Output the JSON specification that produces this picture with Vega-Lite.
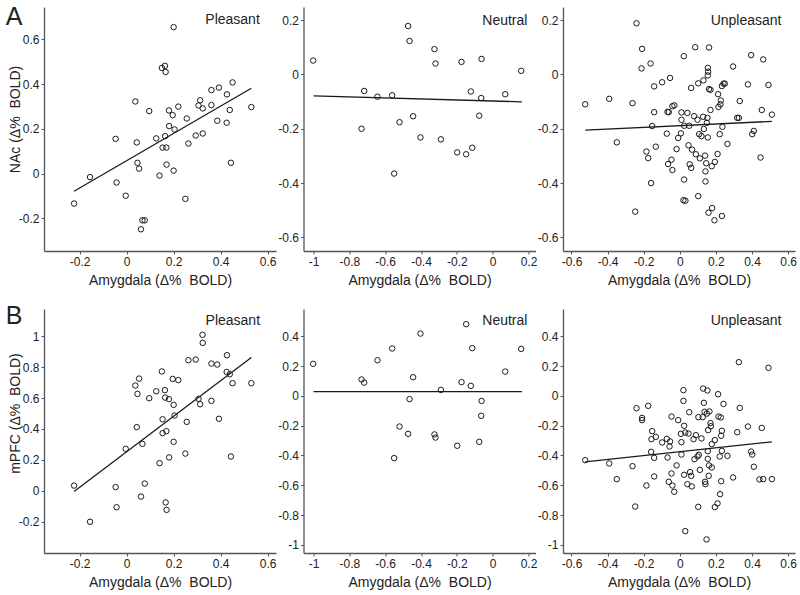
{
  "$schema": "https://vega.github.io/schema/vega-lite/v6.json",
  "padding": {"left": 5, "top": 4, "right": 5, "bottom": 5},
  "background": "white",
  "datasets": {
    "pts": [
      {"p":"NP","x":-0.224,"y":-0.134},{"p":"NP","x":-0.156,"y":-0.016},{"p":"NP","x":-0.047,"y":0.155},{"p":"NP","x":-0.043,"y":-0.040},
      {"p":"NP","x":-0.004,"y":-0.099},{"p":"NP","x":0.037,"y":0.322},{"p":"NP","x":0.043,"y":0.139},{"p":"NP","x":0.046,"y":0.048},
      {"p":"NP","x":0.053,"y":0.022},{"p":"NP","x":0.096,"y":0.279},{"p":"NP","x":0.067,"y":-0.209},{"p":"NP","x":0.077,"y":-0.209},
      {"p":"NP","x":0.061,"y":-0.249},{"p":"NP","x":0.126,"y":0.157},{"p":"NP","x":0.140,"y":-0.009},{"p":"NP","x":0.150,"y":0.472},
      {"p":"NP","x":0.163,"y":0.481},{"p":"NP","x":0.166,"y":0.454},{"p":"NP","x":0.153,"y":0.116},{"p":"NP","x":0.169,"y":0.116},
      {"p":"NP","x":0.164,"y":0.167},{"p":"NP","x":0.170,"y":0.040},{"p":"NP","x":0.180,"y":0.282},{"p":"NP","x":0.181,"y":0.212},
      {"p":"NP","x":0.196,"y":0.261},{"p":"NP","x":0.200,"y":0.654},{"p":"NP","x":0.200,"y":0.013},{"p":"NP","x":0.204,"y":0.197},
      {"p":"NP","x":0.220,"y":0.299},{"p":"NP","x":0.250,"y":-0.113},{"p":"NP","x":0.256,"y":0.246},{"p":"NP","x":0.263,"y":0.134},
      {"p":"NP","x":0.294,"y":0.170},{"p":"NP","x":0.306,"y":0.304},{"p":"NP","x":0.313,"y":0.327},{"p":"NP","x":0.324,"y":0.291},
      {"p":"NP","x":0.324,"y":0.179},{"p":"NP","x":0.361,"y":0.373},{"p":"NP","x":0.361,"y":0.306},{"p":"NP","x":0.393,"y":0.384},
      {"p":"NP","x":0.386,"y":0.236},{"p":"NP","x":0.427,"y":0.354},{"p":"NP","x":0.426,"y":0.227},{"p":"NP","x":0.439,"y":0.284},
      {"p":"NP","x":0.444,"y":0.048},{"p":"NP","x":0.451,"y":0.407},{"p":"NP","x":0.531,"y":0.297},

      {"p":"MP","x":-0.224,"y":0.034},{"p":"MP","x":-0.156,"y":-0.200},{"p":"MP","x":-0.047,"y":0.024},{"p":"MP","x":-0.043,"y":-0.106},
      {"p":"MP","x":-0.004,"y":0.272},{"p":"MP","x":0.037,"y":0.681},{"p":"MP","x":0.043,"y":0.412},{"p":"MP","x":0.046,"y":0.627},
      {"p":"MP","x":0.053,"y":0.726},{"p":"MP","x":0.096,"y":0.599},{"p":"MP","x":0.067,"y":0.304},{"p":"MP","x":0.077,"y":0.047},
      {"p":"MP","x":0.061,"y":-0.037},{"p":"MP","x":0.126,"y":0.644},{"p":"MP","x":0.140,"y":0.179},{"p":"MP","x":0.150,"y":0.772},
      {"p":"MP","x":0.163,"y":0.651},{"p":"MP","x":0.166,"y":-0.075},{"p":"MP","x":0.170,"y":-0.123},{"p":"MP","x":0.153,"y":0.463},
      {"p":"MP","x":0.169,"y":0.386},{"p":"MP","x":0.153,"y":0.373},{"p":"MP","x":0.164,"y":0.603},{"p":"MP","x":0.180,"y":0.593},
      {"p":"MP","x":0.181,"y":0.216},{"p":"MP","x":0.196,"y":0.724},{"p":"MP","x":0.200,"y":0.556},{"p":"MP","x":0.200,"y":0.317},
      {"p":"MP","x":0.204,"y":0.487},{"p":"MP","x":0.220,"y":0.716},{"p":"MP","x":0.250,"y":0.241},{"p":"MP","x":0.256,"y":0.446},
      {"p":"MP","x":0.263,"y":0.845},{"p":"MP","x":0.294,"y":0.849},{"p":"MP","x":0.306,"y":0.595},{"p":"MP","x":0.313,"y":0.560},
      {"p":"MP","x":0.323,"y":1.009},{"p":"MP","x":0.324,"y":0.957},{"p":"MP","x":0.361,"y":0.582},{"p":"MP","x":0.361,"y":0.823},
      {"p":"MP","x":0.386,"y":0.817},{"p":"MP","x":0.393,"y":0.466},{"p":"MP","x":0.427,"y":0.877},{"p":"MP","x":0.426,"y":0.769},
      {"p":"MP","x":0.439,"y":0.754},{"p":"MP","x":0.444,"y":0.222},{"p":"MP","x":0.451,"y":0.696},{"p":"MP","x":0.531,"y":0.696},

      {"p":"NN","x":-1.002,"y":0.051},{"p":"NN","x":-0.732,"y":-0.200},{"p":"NN","x":-0.717,"y":-0.061},{"p":"NN","x":-0.643,"y":-0.082},
      {"p":"NN","x":-0.561,"y":-0.077},{"p":"NN","x":-0.550,"y":-0.365},{"p":"NN","x":-0.520,"y":-0.176},{"p":"NN","x":-0.472,"y":0.178},
      {"p":"NN","x":-0.464,"y":0.123},{"p":"NN","x":-0.444,"y":-0.154},{"p":"NN","x":-0.403,"y":-0.232},{"p":"NN","x":-0.325,"y":0.093},
      {"p":"NN","x":-0.319,"y":0.040},{"p":"NN","x":-0.289,"y":-0.239},{"p":"NN","x":-0.198,"y":-0.287},{"p":"NN","x":-0.174,"y":0.046},
      {"p":"NN","x":-0.148,"y":-0.294},{"p":"NN","x":-0.122,"y":-0.063},{"p":"NN","x":-0.114,"y":-0.270},{"p":"NN","x":-0.075,"y":-0.152},
      {"p":"NN","x":-0.062,"y":0.057},{"p":"NN","x":-0.064,"y":-0.087},{"p":"NN","x":0.070,"y":-0.073},{"p":"NN","x":0.159,"y":0.013},

      {"p":"MN","x":-1.002,"y":0.215},{"p":"MN","x":-0.732,"y":0.110},{"p":"MN","x":-0.717,"y":0.089},{"p":"MN","x":-0.643,"y":0.239},
      {"p":"MN","x":-0.561,"y":0.318},{"p":"MN","x":-0.550,"y":-0.418},{"p":"MN","x":-0.520,"y":-0.206},{"p":"MN","x":-0.472,"y":-0.255},
      {"p":"MN","x":-0.464,"y":-0.022},{"p":"MN","x":-0.444,"y":0.125},{"p":"MN","x":-0.403,"y":0.418},{"p":"MN","x":-0.325,"y":-0.259},
      {"p":"MN","x":-0.319,"y":-0.280},{"p":"MN","x":-0.289,"y":0.040},{"p":"MN","x":-0.198,"y":-0.335},{"p":"MN","x":-0.174,"y":0.092},
      {"p":"MN","x":-0.148,"y":0.481},{"p":"MN","x":-0.122,"y":0.067},{"p":"MN","x":-0.114,"y":0.320},{"p":"MN","x":-0.075,"y":-0.309},
      {"p":"MN","x":-0.062,"y":-0.034},{"p":"MN","x":-0.064,"y":-0.134},{"p":"MN","x":0.070,"y":0.163},{"p":"MN","x":0.159,"y":0.315},

      {"p":"NU","x":-0.524,"y":-0.110},{"p":"NU","x":-0.391,"y":-0.090},{"p":"NU","x":-0.349,"y":-0.250},{"p":"NU","x":-0.262,"y":-0.106},
      {"p":"NU","x":-0.247,"y":-0.505},{"p":"NU","x":-0.240,"y":0.188},{"p":"NU","x":-0.209,"y":0.094},{"p":"NU","x":-0.212,"y":0.022},
      {"p":"NU","x":-0.185,"y":-0.284},{"p":"NU","x":-0.175,"y":-0.308},{"p":"NU","x":-0.162,"y":0.040},{"p":"NU","x":-0.159,"y":-0.400},
      {"p":"NU","x":-0.153,"y":-0.190},{"p":"NU","x":-0.142,"y":-0.044},{"p":"NU","x":-0.142,"y":-0.139},{"p":"NU","x":-0.133,"y":-0.266},
      {"p":"NU","x":-0.098,"y":-0.029},{"p":"NU","x":-0.072,"y":-0.218},{"p":"NU","x":-0.068,"y":-0.138},{"p":"NU","x":-0.065,"y":-0.330},
      {"p":"NU","x":-0.061,"y":-0.139},{"p":"NU","x":-0.054,"y":-0.013},{"p":"NU","x":-0.046,"y":-0.314},{"p":"NU","x":-0.041,"y":-0.117},
      {"p":"NU","x":-0.041,"y":-0.352},{"p":"NU","x":-0.030,"y":-0.114},{"p":"NU","x":-0.018,"y":-0.275},{"p":"NU","x":-0.009,"y":-0.234},
      {"p":"NU","x":0.006,"y":-0.217},{"p":"NU","x":0.009,"y":-0.167},{"p":"NU","x":0.009,"y":-0.140},{"p":"NU","x":0.022,"y":0.067},
      {"p":"NU","x":0.024,"y":-0.189},{"p":"NU","x":0.024,"y":-0.387},{"p":"NU","x":0.020,"y":-0.463},{"p":"NU","x":0.031,"y":-0.465},
      {"p":"NU","x":0.042,"y":-0.142},{"p":"NU","x":0.048,"y":-0.261},{"p":"NU","x":0.052,"y":-0.189},{"p":"NU","x":0.055,"y":-0.331},
      {"p":"NU","x":0.063,"y":-0.050},{"p":"NU","x":0.068,"y":-0.277},{"p":"NU","x":0.063,"y":-0.344},{"p":"NU","x":0.079,"y":-0.154},
      {"p":"NU","x":0.085,"y":0.100},{"p":"NU","x":0.089,"y":-0.294},{"p":"NU","x":0.098,"y":-0.167},{"p":"NU","x":0.102,"y":-0.448},
      {"p":"NU","x":0.102,"y":-0.033},{"p":"NU","x":0.107,"y":-0.220},{"p":"NU","x":0.111,"y":-0.309},{"p":"NU","x":0.120,"y":-0.227},
      {"p":"NU","x":0.129,"y":-0.156},{"p":"NU","x":0.131,"y":-0.022},{"p":"NU","x":0.133,"y":-0.201},{"p":"NU","x":0.140,"y":-0.299},
      {"p":"NU","x":0.142,"y":-0.394},{"p":"NU","x":0.142,"y":-0.357},{"p":"NU","x":0.146,"y":-0.327},{"p":"NU","x":0.150,"y":-0.178},
      {"p":"NU","x":0.153,"y":-0.160},{"p":"NU","x":0.155,"y":-0.232},{"p":"NU","x":0.155,"y":-0.004},{"p":"NU","x":0.155,"y":0.024},
      {"p":"NU","x":0.157,"y":0.010},{"p":"NU","x":0.159,"y":-0.509},{"p":"NU","x":0.162,"y":0.099},{"p":"NU","x":0.162,"y":-0.054},
      {"p":"NU","x":0.170,"y":-0.057},{"p":"NU","x":0.170,"y":-0.131},{"p":"NU","x":0.177,"y":-0.338},{"p":"NU","x":0.179,"y":-0.492},
      {"p":"NU","x":0.194,"y":-0.322},{"p":"NU","x":0.192,"y":-0.537},{"p":"NU","x":0.209,"y":-0.293},{"p":"NU","x":0.212,"y":-0.073},
      {"p":"NU","x":0.214,"y":-0.120},{"p":"NU","x":0.221,"y":-0.220},{"p":"NU","x":0.225,"y":-0.110},{"p":"NU","x":0.227,"y":-0.096},
      {"p":"NU","x":0.233,"y":-0.043},{"p":"NU","x":0.233,"y":-0.521},{"p":"NU","x":0.236,"y":-0.193},{"p":"NU","x":0.242,"y":-0.034},
      {"p":"NU","x":0.249,"y":-0.034},{"p":"NU","x":0.264,"y":-0.256},{"p":"NU","x":0.295,"y":0.029},{"p":"NU","x":0.318,"y":-0.160},
      {"p":"NU","x":0.327,"y":-0.160},{"p":"NU","x":0.332,"y":-0.098},{"p":"NU","x":0.377,"y":-0.037},{"p":"NU","x":0.395,"y":0.071},
      {"p":"NU","x":0.401,"y":-0.220},{"p":"NU","x":0.410,"y":-0.208},{"p":"NU","x":0.447,"y":-0.306},{"p":"NU","x":0.454,"y":-0.131},
      {"p":"NU","x":0.462,"y":0.055},{"p":"NU","x":0.491,"y":-0.039},{"p":"NU","x":0.510,"y":-0.148},

      {"p":"MU","x":-0.524,"y":-0.432},{"p":"MU","x":-0.391,"y":-0.454},{"p":"MU","x":-0.349,"y":-0.559},{"p":"MU","x":-0.262,"y":-0.472},
      {"p":"MU","x":-0.247,"y":-0.743},{"p":"MU","x":-0.240,"y":-0.083},{"p":"MU","x":-0.209,"y":-0.148},{"p":"MU","x":-0.209,"y":-0.163},
      {"p":"MU","x":-0.185,"y":-0.602},{"p":"MU","x":-0.175,"y":-0.067},{"p":"MU","x":-0.159,"y":-0.376},{"p":"MU","x":-0.153,"y":-0.237},
      {"p":"MU","x":-0.157,"y":-0.291},{"p":"MU","x":-0.142,"y":-0.416},{"p":"MU","x":-0.142,"y":-0.541},{"p":"MU","x":-0.133,"y":-0.275},
      {"p":"MU","x":-0.098,"y":-0.313},{"p":"MU","x":-0.072,"y":-0.289},{"p":"MU","x":-0.068,"y":-0.414},{"p":"MU","x":-0.061,"y":-0.577},
      {"p":"MU","x":-0.057,"y":-0.340},{"p":"MU","x":-0.054,"y":-0.306},{"p":"MU","x":-0.046,"y":-0.139},{"p":"MU","x":-0.046,"y":-0.521},
      {"p":"MU","x":-0.041,"y":-0.602},{"p":"MU","x":-0.031,"y":-0.644},{"p":"MU","x":-0.018,"y":-0.467},{"p":"MU","x":-0.009,"y":-0.163},
      {"p":"MU","x":0.006,"y":-0.255},{"p":"MU","x":0.009,"y":-0.311},{"p":"MU","x":0.009,"y":-0.394},{"p":"MU","x":0.020,"y":0.038},
      {"p":"MU","x":0.020,"y":-0.034},{"p":"MU","x":0.024,"y":-0.201},{"p":"MU","x":0.024,"y":-0.530},{"p":"MU","x":0.030,"y":-0.908},
      {"p":"MU","x":0.030,"y":-0.246},{"p":"MU","x":0.042,"y":-0.593},{"p":"MU","x":0.048,"y":-0.253},{"p":"MU","x":0.052,"y":-0.110},
      {"p":"MU","x":0.057,"y":-0.512},{"p":"MU","x":0.063,"y":-0.537},{"p":"MU","x":0.066,"y":-0.608},{"p":"MU","x":0.076,"y":-0.291},
      {"p":"MU","x":0.081,"y":-0.425},{"p":"MU","x":0.089,"y":-0.264},{"p":"MU","x":0.098,"y":-0.407},{"p":"MU","x":0.102,"y":-0.745},
      {"p":"MU","x":0.103,"y":-0.143},{"p":"MU","x":0.105,"y":-0.396},{"p":"MU","x":0.111,"y":-0.497},{"p":"MU","x":0.120,"y":-0.286},
      {"p":"MU","x":0.127,"y":-0.143},{"p":"MU","x":0.129,"y":0.049},{"p":"MU","x":0.133,"y":-0.047},{"p":"MU","x":0.137,"y":-0.107},
      {"p":"MU","x":0.140,"y":-0.577},{"p":"MU","x":0.142,"y":-0.593},{"p":"MU","x":0.148,"y":-0.964},{"p":"MU","x":0.150,"y":-0.119},
      {"p":"MU","x":0.153,"y":0.036},{"p":"MU","x":0.155,"y":-0.371},{"p":"MU","x":0.155,"y":-0.423},{"p":"MU","x":0.157,"y":-0.230},
      {"p":"MU","x":0.160,"y":-0.537},{"p":"MU","x":0.162,"y":-0.467},{"p":"MU","x":0.164,"y":-0.105},{"p":"MU","x":0.170,"y":-0.183},
      {"p":"MU","x":0.172,"y":-0.204},{"p":"MU","x":0.177,"y":-0.324},{"p":"MU","x":0.177,"y":-0.481},{"p":"MU","x":0.194,"y":-0.297},
      {"p":"MU","x":0.194,"y":-0.747},{"p":"MU","x":0.209,"y":-0.722},{"p":"MU","x":0.212,"y":0.011},{"p":"MU","x":0.214,"y":-0.139},
      {"p":"MU","x":0.221,"y":-0.407},{"p":"MU","x":0.227,"y":-0.145},{"p":"MU","x":0.229,"y":-0.268},{"p":"MU","x":0.233,"y":-0.235},
      {"p":"MU","x":0.233,"y":-0.369},{"p":"MU","x":0.229,"y":-0.573},{"p":"MU","x":0.223,"y":-0.660},{"p":"MU","x":0.242,"y":-0.054},
      {"p":"MU","x":0.264,"y":-0.403},{"p":"MU","x":0.295,"y":-0.548},{"p":"MU","x":0.318,"y":-0.244},{"p":"MU","x":0.327,"y":0.226},
      {"p":"MU","x":0.332,"y":-0.081},{"p":"MU","x":0.377,"y":-0.206},{"p":"MU","x":0.395,"y":-0.374},{"p":"MU","x":0.401,"y":-0.394},
      {"p":"MU","x":0.410,"y":-0.476},{"p":"MU","x":0.441,"y":-0.561},{"p":"MU","x":0.462,"y":-0.559},{"p":"MU","x":0.454,"y":-0.215},
      {"p":"MU","x":0.491,"y":0.188},{"p":"MU","x":0.510,"y":-0.559}
    ],
    "fit": [
      {"p":"NP","x":-0.224,"y":-0.079},{"p":"NP","x":0.531,"y":0.381},
      {"p":"NN","x":-1.0,"y":-0.079},{"p":"NN","x":0.163,"y":-0.101},
      {"p":"NU","x":-0.524,"y":-0.205},{"p":"NU","x":0.510,"y":-0.173},
      {"p":"MP","x":-0.224,"y":-0.004},{"p":"MP","x":0.531,"y":0.862},
      {"p":"MN","x":-1.0,"y":0.029},{"p":"MN","x":0.163,"y":0.029},
      {"p":"MU","x":-0.524,"y":-0.443},{"p":"MU","x":0.510,"y":-0.309}
    ],
    "labels": [{"one": 1}]
  },
  "vconcat": [
    {
      "bounds": "flush",
      "spacing": 27.5,
      "hconcat": [
        {
          "width": 232, "height": 244,
          "layer": [
            {"data": {"name": "pts"}, "transform": [{"filter": "datum.p === 'NP'"}],
             "mark": {"type": "point", "shape": "circle", "filled": false, "size": 30, "stroke": "#1a1a1a", "strokeWidth": 1, "opacity": 1},
             "encoding": {
               "x": {"field": "x", "type": "quantitative", "scale": {"domain": [-0.352, 0.636], "nice": false, "zero": false},
                     "axis": {"title": "Amygdala (Δ%\u00a0 BOLD)", "tickCount": 20, "labelOverlap": false, "values": [-0.2, 0, 0.2, 0.4, 0.6], "labelExpr": "'' + datum.value"}},
               "y": {"field": "y", "type": "quantitative", "scale": {"domain": [-0.346, 0.744], "nice": false, "zero": false},
                     "axis": {"title": "NAc (Δ%\u00a0 BOLD)", "titleY": 112, "tickCount": 20, "labelOverlap": false, "values": [-0.2, 0, 0.2, 0.4, 0.6], "labelExpr": "'' + datum.value"}}
             }},
            {"data": {"name": "fit"}, "transform": [{"filter": "datum.p === 'NP'"}],
             "mark": {"type": "line", "color": "#1a1a1a", "strokeWidth": 1.3},
             "encoding": {"x": {"field": "x", "type": "quantitative"}, "y": {"field": "y", "type": "quantitative"}}},
            {"data": {"name": "labels"},
             "mark": {"type": "text", "text": "Pleasant", "align": "right", "baseline": "alphabetic", "fontSize": 14, "color": "#222"},
             "encoding": {"x": {"datum": 0.567}, "y": {"datum": 0.666}}},
            {"data": {"name": "labels"},
             "mark": {"type": "text", "text": "A", "align": "left", "baseline": "alphabetic", "fontSize": 25, "color": "#222"},
             "encoding": {"x": {"datum": -0.515}, "y": {"datum": 0.664}}}
          ]
        },
        {
          "width": 232, "height": 244,
          "layer": [
            {"data": {"name": "pts"}, "transform": [{"filter": "datum.p === 'NN'"}],
             "mark": {"type": "point", "shape": "circle", "filled": false, "size": 30, "stroke": "#1a1a1a", "strokeWidth": 1, "opacity": 1},
             "encoding": {
               "x": {"field": "x", "type": "quantitative", "scale": {"domain": [-1.056, 0.239], "nice": false, "zero": false},
                     "axis": {"title": "Amygdala (Δ%\u00a0 BOLD)", "tickCount": 20, "labelOverlap": false, "values": [-1, -0.8, -0.6, -0.4, -0.2, 0, 0.2], "labelExpr": "'' + datum.value"}},
               "y": {"field": "y", "type": "quantitative", "scale": {"domain": [-0.650, 0.248], "nice": false, "zero": false},
                     "axis": {"title": null, "tickCount": 20, "labelOverlap": false, "values": [-0.6, -0.4, -0.2, 0, 0.2], "labelExpr": "'' + datum.value"}}
             }},
            {"data": {"name": "fit"}, "transform": [{"filter": "datum.p === 'NN'"}],
             "mark": {"type": "line", "color": "#1a1a1a", "strokeWidth": 1.3},
             "encoding": {"x": {"field": "x", "type": "quantitative"}, "y": {"field": "y", "type": "quantitative"}}},
            {"data": {"name": "labels"},
             "mark": {"type": "text", "text": "Neutral", "align": "right", "baseline": "alphabetic", "fontSize": 14, "color": "#222"},
             "encoding": {"x": {"datum": 0.194}, "y": {"datum": 0.183}}}
          ]
        },
        {
          "width": 232, "height": 244,
          "layer": [
            {"data": {"name": "pts"}, "transform": [{"filter": "datum.p === 'NU'"}],
             "mark": {"type": "point", "shape": "circle", "filled": false, "size": 30, "stroke": "#1a1a1a", "strokeWidth": 1, "opacity": 1},
             "encoding": {
               "x": {"field": "x", "type": "quantitative", "scale": {"domain": [-0.647, 0.638], "nice": false, "zero": false},
                     "axis": {"title": "Amygdala (Δ%\u00a0 BOLD)", "tickCount": 20, "labelOverlap": false, "values": [-0.6, -0.4, -0.2, 0, 0.2, 0.4, 0.6], "labelExpr": "'' + datum.value"}},
               "y": {"field": "y", "type": "quantitative", "scale": {"domain": [-0.650, 0.248], "nice": false, "zero": false},
                     "axis": {"title": null, "tickCount": 20, "labelOverlap": false, "values": [-0.6, -0.4, -0.2, 0, 0.2], "labelExpr": "'' + datum.value"}}
             }},
            {"data": {"name": "fit"}, "transform": [{"filter": "datum.p === 'NU'"}],
             "mark": {"type": "line", "color": "#1a1a1a", "strokeWidth": 1.3},
             "encoding": {"x": {"field": "x", "type": "quantitative"}, "y": {"field": "y", "type": "quantitative"}}},
            {"data": {"name": "labels"},
             "mark": {"type": "text", "text": "Unpleasant", "align": "right", "baseline": "alphabetic", "fontSize": 14, "color": "#222"},
             "encoding": {"x": {"datum": 0.563}, "y": {"datum": 0.183}}}
          ]
        }
      ]
    },
    {
      "bounds": "flush",
      "spacing": 27.5,
      "hconcat": [
        {
          "width": 232, "height": 244,
          "layer": [
            {"data": {"name": "pts"}, "transform": [{"filter": "datum.p === 'MP'"}],
             "mark": {"type": "point", "shape": "circle", "filled": false, "size": 30, "stroke": "#1a1a1a", "strokeWidth": 1, "opacity": 1},
             "encoding": {
               "x": {"field": "x", "type": "quantitative", "scale": {"domain": [-0.352, 0.636], "nice": false, "zero": false},
                     "axis": {"title": "Amygdala (Δ%\u00a0 BOLD)", "tickCount": 20, "labelOverlap": false, "values": [-0.2, 0, 0.2, 0.4, 0.6], "labelExpr": "'' + datum.value"}},
               "y": {"field": "y", "type": "quantitative", "scale": {"domain": [-0.402, 1.176], "nice": false, "zero": false},
                     "axis": {"title": "mPFC (Δ%\u00a0 BOLD)", "titleY": 104, "tickCount": 20, "labelOverlap": false, "values": [-0.2, 0, 0.2, 0.4, 0.6, 0.8, 1], "labelExpr": "'' + datum.value"}}
             }},
            {"data": {"name": "fit"}, "transform": [{"filter": "datum.p === 'MP'"}],
             "mark": {"type": "line", "color": "#1a1a1a", "strokeWidth": 1.3},
             "encoding": {"x": {"field": "x", "type": "quantitative"}, "y": {"field": "y", "type": "quantitative"}}},
            {"data": {"name": "labels"},
             "mark": {"type": "text", "text": "Pleasant", "align": "right", "baseline": "alphabetic", "fontSize": 14, "color": "#222"},
             "encoding": {"x": {"datum": 0.568}, "y": {"datum": 1.072}}},
            {"data": {"name": "labels"},
             "mark": {"type": "text", "text": "B", "align": "left", "baseline": "alphabetic", "fontSize": 25, "color": "#222"},
             "encoding": {"x": {"datum": -0.515}, "y": {"datum": 1.076}}}
          ]
        },
        {
          "width": 232, "height": 244,
          "layer": [
            {"data": {"name": "pts"}, "transform": [{"filter": "datum.p === 'MN'"}],
             "mark": {"type": "point", "shape": "circle", "filled": false, "size": 30, "stroke": "#1a1a1a", "strokeWidth": 1, "opacity": 1},
             "encoding": {
               "x": {"field": "x", "type": "quantitative", "scale": {"domain": [-1.056, 0.239], "nice": false, "zero": false},
                     "axis": {"title": "Amygdala (Δ%\u00a0 BOLD)", "tickCount": 20, "labelOverlap": false, "values": [-1, -0.8, -0.6, -0.4, -0.2, 0, 0.2], "labelExpr": "'' + datum.value"}},
               "y": {"field": "y", "type": "quantitative", "scale": {"domain": [-1.055, 0.583], "nice": false, "zero": false},
                     "axis": {"title": null, "tickCount": 20, "labelOverlap": false, "values": [-1, -0.8, -0.6, -0.4, -0.2, 0, 0.2, 0.4], "labelExpr": "'' + datum.value"}}
             }},
            {"data": {"name": "fit"}, "transform": [{"filter": "datum.p === 'MN'"}],
             "mark": {"type": "line", "color": "#1a1a1a", "strokeWidth": 1.3},
             "encoding": {"x": {"field": "x", "type": "quantitative"}, "y": {"field": "y", "type": "quantitative"}}},
            {"data": {"name": "labels"},
             "mark": {"type": "text", "text": "Neutral", "align": "right", "baseline": "alphabetic", "fontSize": 14, "color": "#222"},
             "encoding": {"x": {"datum": 0.194}, "y": {"datum": 0.475}}}
          ]
        },
        {
          "width": 232, "height": 244,
          "layer": [
            {"data": {"name": "pts"}, "transform": [{"filter": "datum.p === 'MU'"}],
             "mark": {"type": "point", "shape": "circle", "filled": false, "size": 30, "stroke": "#1a1a1a", "strokeWidth": 1, "opacity": 1},
             "encoding": {
               "x": {"field": "x", "type": "quantitative", "scale": {"domain": [-0.647, 0.638], "nice": false, "zero": false},
                     "axis": {"title": "Amygdala (Δ%\u00a0 BOLD)", "tickCount": 20, "labelOverlap": false, "values": [-0.6, -0.4, -0.2, 0, 0.2, 0.4, 0.6], "labelExpr": "'' + datum.value"}},
               "y": {"field": "y", "type": "quantitative", "scale": {"domain": [-1.055, 0.583], "nice": false, "zero": false},
                     "axis": {"title": null, "tickCount": 20, "labelOverlap": false, "values": [-1, -0.8, -0.6, -0.4, -0.2, 0, 0.2, 0.4], "labelExpr": "'' + datum.value"}}
             }},
            {"data": {"name": "fit"}, "transform": [{"filter": "datum.p === 'MU'"}],
             "mark": {"type": "line", "color": "#1a1a1a", "strokeWidth": 1.3},
             "encoding": {"x": {"field": "x", "type": "quantitative"}, "y": {"field": "y", "type": "quantitative"}}},
            {"data": {"name": "labels"},
             "mark": {"type": "text", "text": "Unpleasant", "align": "right", "baseline": "alphabetic", "fontSize": 14, "color": "#222"},
             "encoding": {"x": {"datum": 0.563}, "y": {"datum": 0.475}}}
          ]
        }
      ]
    }
  ],
  "spacing": 17,
  "config": {
    "font": "Liberation Sans",
    "view": {"stroke": null},
    "text": {"font": "Liberation Sans"},
    "axis": {
      "grid": false,
      "domainColor": "#555", "domainWidth": 1.3,
      "tickColor": "#555", "tickSize": 3, "tickWidth": 1,
      "labelFont": "Liberation Sans", "labelFontSize": 12, "labelColor": "#222", "labelPadding": 2,
      "labelOverlap": false, "labelFlush": false,
      "titleFont": "Liberation Sans", "titleFontSize": 14, "titleFontWeight": "normal", "titleColor": "#222"
    },
    "axisX": {"titlePadding": 6},
    "axisY": {"titlePadding": -4.5}
  }
}
